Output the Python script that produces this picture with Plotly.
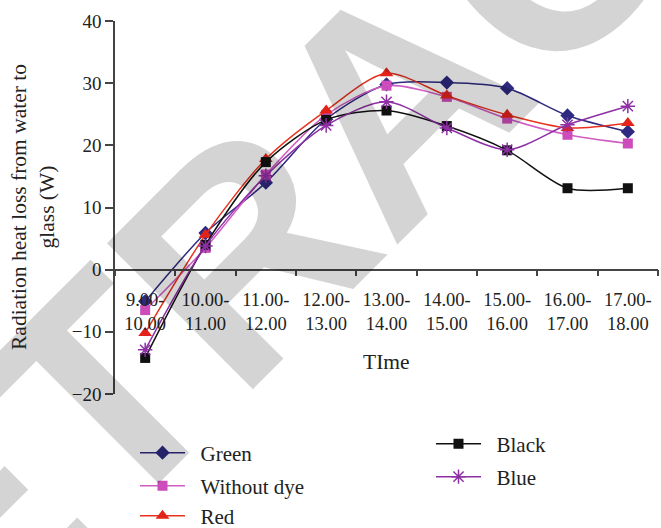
import plotly.graph_objects as go

# ---- data ----
tick_labels = ["9.00-<br>10.00", "10.00-<br>11.00", "11.00-<br>12.00", "12.00-<br>13.00",
               "13.00-<br>14.00", "14.00-<br>15.00", "15.00-<br>16.00", "16.00-<br>17.00",
               "17.00-<br>18.00"]
categories = ["9-10", "10-11", "11-12", "12-13", "13-14", "14-15", "15-16", "16-17", "17-18"]
green = [-5.1, 5.9, 14.0, 24.2, 29.8, 30.1, 29.2, 24.8, 22.2]
without_dye = [-6.5, 3.5, 15.3, 24.9, 29.6, 27.8, 24.3, 21.7, 20.3]
red = [-10.2, 5.6, 17.8, 25.6, 31.6, 28.0, 24.9, 22.8, 23.6]
black = [-14.2, 4.0, 17.3, 24.1, 25.6, 23.1, 19.2, 13.1, 13.1]
blue = [-12.9, 3.8, 15.1, 23.2, 27.0, 22.8, 19.3, 23.3, 26.3]

# ---- layout geometry (px) ----
W, H = 661, 528
L, R, T, B = 115, 3, 21, 134
PW, PH = W - L - R, H - T - B
def px(x): return (x - L) / PW
def py(y): return (H - B - y) / PH

FONT = "Liberation Serif"
PAD = "\u00a0\u00a0"
series = [
    ("Green", green, "#2E2A80", "#2E2A80", "diamond", 11, "legend", (140, 453)),
    ("Without dye", without_dye, "#D05CC4", "#CC4CBB", "square", 10, "legend2", (140, 486)),
    ("Red", red, "#E8321E", "#E2231A", "triangle-up", 12, "legend3", (140, 516)),
    ("Black", black, "#111111", "#111111", "square", 10, "legend4", (436, 444)),
    ("Blue", blue, "#8E2FA6", "#8E2FA6", "asterisk-open", 12, "legend5", (436, 477)),
]

fig = go.Figure()
for name, vals, lc, mc, sym, size, lg, _ in series:
    fig.add_trace(go.Scatter(
        x=categories, y=vals, name=PAD + name, mode="lines+markers",
        line=dict(color=lc, width=1.5, shape="spline", smoothing=0.8),
        marker=dict(symbol=sym, size=size, color=mc,
                    line=dict(color=mc, width=1.5 if "open" in sym else 0)),
        legend=lg,
    ))

layout_legends = {}
for name, vals, lc, mc, sym, size, lg, (lx, ly) in series:
    layout_legends[lg] = dict(
        x=px(lx - 5), y=py(ly), xanchor="left", yanchor="middle",
        font=dict(family=FONT, size=21, color="#222222"),
        bgcolor="rgba(0,0,0,0)", itemwidth=45,
    )

fig.update_layout(
    width=W, height=H,
    margin=dict(l=L, r=R, t=T, b=B, autoexpand=False),
    paper_bgcolor="white", plot_bgcolor="rgba(0,0,0,0)",
    showlegend=True,
    xaxis=dict(
        type="category", categoryorder="array", categoryarray=categories,
        tickmode="array", tickvals=categories, ticktext=tick_labels,
        anchor="free", position=(0 - (-20)) / 60,
        showline=True, linecolor="#444444", linewidth=1.5,
        ticks="outside", tickson="boundaries", ticklen=6, tickcolor="#444444",
        tickwidth=1.5, ticklabelstandoff=13,
        showgrid=False, zeroline=False,
        tickfont=dict(family=FONT, size=18.5, color="#222222"),
        range=[-0.5, 8.5],
    ),
    yaxis=dict(
        range=[-20, 40], tickvals=[-20, -10, 0, 10, 20, 30, 40],
        ticktext=["\u221220", "\u221210", "0", "10", "20", "30", "40"],
        showline=True, linecolor="#444444", linewidth=1.5,
        ticks="outside", ticklen=8, tickcolor="#444444", tickwidth=1.5,
        showgrid=False, zeroline=False,
        tickfont=dict(family=FONT, size=19, color="#222222"),
    ),
    annotations=[
        dict(text="RETRACTED", xref="paper", yref="paper", x=px(395), y=py(100),
             xanchor="center", yanchor="middle", showarrow=False, textangle=-45,
             font=dict(family="Liberation Sans", size=300, color="rgba(0,0,0,0.17)", weight="bold")),
        dict(text="Radiation heat loss from water to<br>glass (W)", xref="paper", yref="paper",
             x=px(33), y=py(207), xanchor="center", yanchor="middle", showarrow=False,
             textangle=-90, font=dict(family=FONT, size=21.5, color="#222222")),
        dict(text="TIme", xref="paper", yref="paper", x=px(386), y=py(362),
             xanchor="center", yanchor="middle", showarrow=False,
             font=dict(family=FONT, size=21.5, color="#222222")),
    ],
    **layout_legends,
)

fig.write_html("out.html", post_script="document.body.style.margin='0';",
               config={"displayModeBar": False})
